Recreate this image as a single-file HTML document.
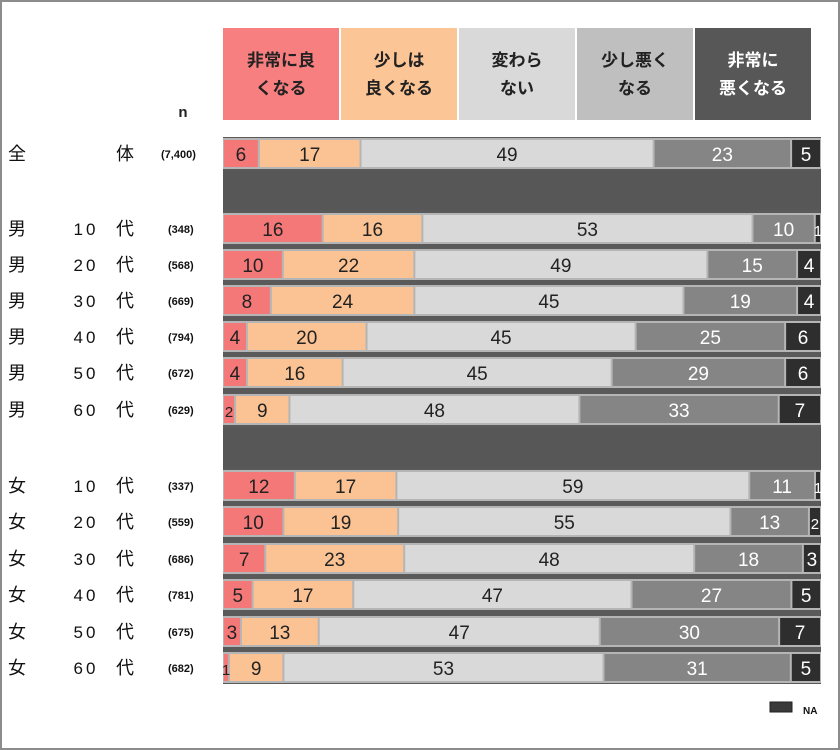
<!DOCTYPE html>
<html><head><meta charset="utf-8"><style>
body{margin:0;background:#fff}
svg{display:block;font-family:"Liberation Sans","Noto Sans CJK JP",sans-serif}
</style></head><body>
<svg id="chart" width="840" height="750">
<rect x="1" y="1" width="838" height="748" fill="#fff" stroke="#8c8c8c" stroke-width="2"/>
</svg>
<script>
const categories = [
  ["全","","体","(7,400)"],
  ["男","10","代","(348)"],["男","20","代","(568)"],["男","30","代","(669)"],["男","40","代","(794)"],["男","50","代","(672)"],["男","60","代","(629)"],
  ["女","10","代","(337)"],["女","20","代","(559)"],["女","30","代","(686)"],["女","40","代","(781)"],["女","50","代","(675)"],["女","60","代","(682)"]
];
const seriesNames = ["非常に良くなる","少しは良くなる","変わらない","少し悪くなる","非常に悪くなる","NA"];
const verygood = [6,16,10,8,4,4,2,12,10,7,5,3,1];
const somewhatgood = [17,16,22,24,20,16,9,17,19,23,17,13,9];
const nochange = [49,53,49,45,45,45,48,59,55,48,47,47,53];
const somewhatbad = [23,10,15,19,25,29,33,11,13,18,27,30,31];
const verybad = [5,1,4,4,6,6,7,1,2,3,5,7,5];
const na = [0,0,0,0,0,0,0,0,0,0,0,0,0];

const svg = document.getElementById('chart');
const NS = 'http://www.w3.org/2000/svg';
function mk(tag, attrs, parent){const e=document.createElementNS(NS,tag);for(const k in attrs)e.setAttribute(k,attrs[k]);(parent||svg).appendChild(e);return e;}
const X0 = 223, X1 = 821;
const rowY = [140,215,251,287,323,359,396,472,508,545,581,618,654];
const BH = 27;
const colors = ["#f47878","#fbc393","#d9d9d9","#858585","#2e2e2e","#2e2e2e"];
const textCol = ["#222","#222","#222","#fff","#fff","#fff"];
const series = [verygood,somewhatgood,nochange,somewhatbad,verybad,na];
function xs(v,total){return X0 + (v/total)*(X1-X0);}

const hdr = [["非常に良","くなる"],["少しは","良くなる"],["変わら","ない"],["少し悪く","なる"],["非常に","悪くなる"]];
const hcol = ["#f87f7f","#fcc596","#d9d9d9","#bfbfbf","#575757"];
for(let i=0;i<5;i++){
  const hx = 223 + i*118;
  const r = mk('rect',{x:hx,y:28,width:116,height:92,fill:hcol[i]});
  
  
  hdr[i].forEach((s,j)=>{
    const t = mk('text',{x:hx+58,y:66+j*28,'text-anchor':'middle','font-size':17,'font-weight':'bold',fill:i==4?'#fff':'#222'});
    t.textContent=s;
    
    
  });
}
const nt = mk('text',{x:183,y:117,'text-anchor':'middle','font-size':15,'font-weight':'bold',fill:'#222'});
nt.textContent='n';



const bg = mk('rect',{x:X0,y:137,width:X1-X0,height:547,fill:'#5a5a5a'});



categories.forEach((c,i)=>{
  const y = rowY[i];
  const rb = mk('rect',{x:X0,y:y-2,width:X1-X0,height:BH+4,fill:'#b5b5b5'});
  
  
  const total = series.reduce((s,a)=>s+a[i],0);
  let acc = 0;
  series.forEach((arr,k)=>{
    const v = arr[i];
    if(v<=0) return;
    const xa = xs(acc,total), xb = xs(acc+v,total);
    const r = mk('rect',{x:xa+1,y:y,width:Math.max(xb-xa-2,1),height:BH,fill:colors[k]});
    
    
    const t = mk('text',{x:(xa+xb)/2,y:y+21,'text-anchor':'middle','font-size':v<3?15:19,fill:textCol[k]});
    t.textContent = v;
    
    
    acc += v;
  });
  const cy = y+20;
  const a = mk('text',{x:8,y:cy,'font-size':18,fill:'#111'});a.textContent=c[0];
  
  
  const b = mk('text',{x:86,y:cy,'text-anchor':'middle','font-size':17,fill:'#111','letter-spacing':'3'});b.textContent=c[1];
  
  
  const d = mk('text',{x:116,y:cy,'font-size':18,fill:'#111'});d.textContent=c[2];
  
  
  const e = mk('text',{x:i==0?161:168,y:cy-2,'font-size':11,fill:'#111','font-weight':'bold'});e.textContent=c[3];
  
  
});

[[170,40],[428,40]].forEach(b=>{
  const r = mk('rect',{x:X0,y:b[0],width:X1-X0,height:b[1],fill:'#575757'});
  
  
});

const lr = mk('rect',{x:770,y:702,width:22,height:10,fill:'#3a3a3a',stroke:'#222'});


const lt = mk('text',{x:803,y:714,'font-size':10,fill:'#111','font-weight':'bold'});lt.textContent='NA';


</script>
</body></html>
